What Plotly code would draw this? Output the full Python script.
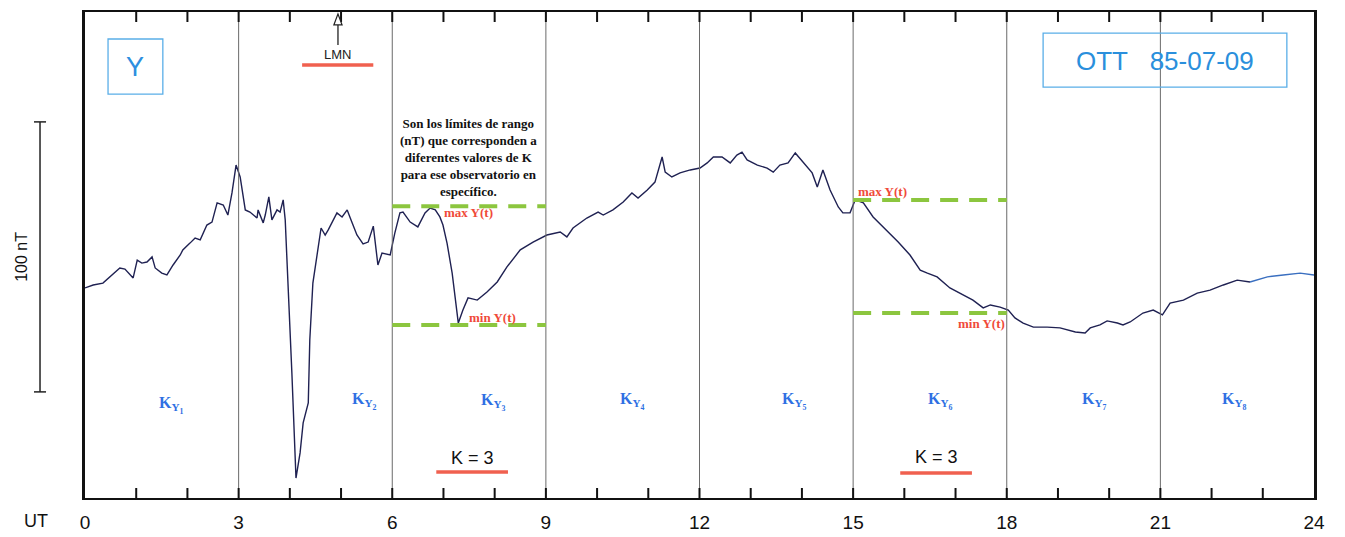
import plotly.graph_objects as go

# ---- data (hours UT, nT relative) ----
t_main = [0, 0.16, 0.35, 0.53, 0.68, 0.78, 0.94, 1.02, 1.11, 1.21, 1.31, 1.37, 1.50, 1.60, 1.72, 1.86, 1.91,
          2.05, 2.15, 2.25, 2.38, 2.48, 2.58, 2.70, 2.79, 2.87, 2.95, 3.03, 3.13, 3.22, 3.36, 3.38, 3.48,
          3.52, 3.59, 3.65, 3.75, 3.81, 3.87, 3.91, 3.96, 4.04, 4.12, 4.20, 4.26, 4.36, 4.39, 4.45, 4.61,
          4.69, 4.75, 4.92, 5.02, 5.12, 5.18, 5.31, 5.43, 5.53, 5.63, 5.72, 5.80, 5.96, 6.05, 6.15, 6.21,
          6.35, 6.50, 6.64, 6.74, 6.84, 6.93, 6.99, 7.07, 7.17, 7.29, 7.38, 7.48, 7.66, 7.85, 8.05, 8.24,
          8.50, 8.75, 9.02, 9.28, 9.41, 9.53, 9.80, 10.02, 10.12, 10.31, 10.51, 10.68, 10.80, 10.98, 11.13,
          11.27, 11.33, 11.46, 11.62, 11.82, 12.01, 12.15, 12.27, 12.44, 12.60, 12.73, 12.83, 12.93, 13.13,
          13.32, 13.44, 13.57, 13.73, 13.87, 14.02, 14.20, 14.30, 14.41, 14.55, 14.71, 14.80, 14.94, 15.04,
          15.20, 15.39, 15.59, 15.88, 16.11, 16.31, 16.45, 16.64, 16.89, 17.15, 17.34, 17.54, 17.68, 17.87,
          18.03, 18.16, 18.32, 18.52, 18.79, 19.04, 19.34, 19.53, 19.63, 19.82, 19.96, 20.16, 20.27, 20.41,
          20.66, 20.86, 21.04, 21.19, 21.45, 21.72, 21.97, 22.23, 22.50, 22.75]
y_main = [77.8, 78.9, 79.6, 82.6, 85.2, 84.8, 81.5, 88.1, 87.0, 87.4, 89.3, 85.2, 83.3, 82.6, 86.3, 90.0, 91.9,
          94.4, 96.3, 95.6, 101.1, 102.2, 109.3, 108.5, 104.8, 113.0, 123.3, 118.9, 106.7, 105.9, 103.7, 106.7, 101.9,
          104.8, 111.5, 103.0, 106.7, 105.9, 110.4, 103.0, 83.3, 46.3, 7.4, 16.7, 27.8, 35.2, 58.5, 79.6, 100.0,
          97.4, 99.3, 105.6, 104.1, 106.7, 103.7, 97.4, 94.1, 94.8, 100.7, 86.3, 90.7, 90.0, 98.1, 105.6, 105.9,
          102.2, 100.4, 105.6, 107.4, 106.7, 104.1, 101.1, 94.4, 83.3, 64.8, 69.6, 74.1, 73.3, 76.3, 80.0, 85.6,
          91.9, 94.8, 97.4, 98.5, 96.7, 100.0, 103.7, 105.9, 104.8, 106.7, 109.6, 113.0, 111.1, 114.1, 117.0,
          126.3, 120.7, 118.9, 120.4, 121.5, 122.2, 124.1, 126.3, 126.3, 124.1, 127.0, 128.1, 125.2, 123.3,
          122.2, 120.7, 123.3, 124.1, 127.8, 124.4, 120.4, 115.2, 121.5, 114.1, 107.8, 105.6, 105.6, 110.4,
          109.3, 104.1, 100.4, 94.8, 90.0, 84.4, 83.3, 81.9, 77.8, 75.2, 73.3, 70.4, 71.5, 70.7,
          69.6, 66.7, 64.8, 63.3, 63.3, 63.0, 61.5, 61.1, 63.0, 64.1, 65.6, 64.8, 64.1, 65.2,
          68.5, 69.6, 67.8, 72.2, 73.3, 75.9, 77.0, 78.9, 80.7, 80.0]
t_end = [22.75, 23.09, 23.40, 23.73, 24.0]
y_end = [80.0, 81.9, 82.6, 83.3, 82.6]

k_periods = [[6.0, 9.0], [15.0, 18.0]]
k_max = [108.1, 110.4]
k_min = [64.1, 68.5]

k_labels = ["K<sub>Y<sub>1</sub></sub>", "K<sub>Y<sub>2</sub></sub>", "K<sub>Y<sub>3</sub></sub>",
            "K<sub>Y<sub>4</sub></sub>", "K<sub>Y<sub>5</sub></sub>", "K<sub>Y<sub>6</sub></sub>",
            "K<sub>Y<sub>7</sub></sub>", "K<sub>Y<sub>8</sub></sub>"]
k_label_t = [1.68, 5.45, 7.97, 10.70, 13.85, 16.70, 19.72, 22.45]
k_label_y = [34.5, 36.0, 35.5, 36.0, 36.0, 36.0, 36.0, 36.0]

hour_ticks = list(range(0, 25))
tick_text = [str(h) if h % 3 == 0 else "" for h in hour_ticks]

# ---- figure ----
fig = go.Figure()
fig.add_trace(go.Scatter(x=t_main, y=y_main, mode="lines",
                         line=dict(color="#1f2152", width=1.4), hoverinfo="skip"))
fig.add_trace(go.Scatter(x=t_end, y=y_end, mode="lines",
                         line=dict(color="#3a6fc0", width=1.4), hoverinfo="skip"))

shapes = []
# 3-hour separators
for h in range(3, 24, 3):
    shapes.append(dict(type="line", xref="x", yref="paper", x0=h, x1=h, y0=0, y1=1,
                       line=dict(color="#6a6a6a", width=1)))
# hourly ticks (top and bottom, inward)
for h in hour_ticks[1:-1]:
    for y0, y1 in ((0, 3.7), (180, 176.3)):
        shapes.append(dict(type="line", xref="x", yref="y", x0=h, x1=h, y0=y0, y1=y1,
                           line=dict(color="#111", width=2)))
# dashed max/min lines
for (a, b), mx, mn in zip(k_periods, k_max, k_min):
    for yy in (mx, mn):
        shapes.append(dict(type="line", xref="x", yref="y", x0=a, x1=b, y0=yy, y1=yy,
                           line=dict(color="#8cc63f", width=4, dash="18px,11px")))
# K = 3 underlines
for x0, x1, yy in [(6.86, 8.26, 9.6), (15.92, 17.32, 9.3)]:
    shapes.append(dict(type="line", xref="x", yref="y", x0=x0, x1=x1, y0=yy, y1=yy,
                       line=dict(color="#f0604f", width=3.5)))
# LMN underline and arrow
shapes.append(dict(type="line", xref="x", yref="y", x0=4.24, x1=5.63, y0=160.4, y1=160.4,
                   line=dict(color="#f0604f", width=3.5)))
shapes.append(dict(type="line", xref="x", yref="y", x0=4.94, x1=4.94, y0=167.8, y1=178.5,
                   line=dict(color="#222", width=1.3)))
shapes.append(dict(type="path", xref="x", yref="y",
                   path="M 4.86 175.2 L 5.02 175.2 L 4.94 179.3 Z",
                   line=dict(color="#222", width=1.2), fillcolor="white"))
# 100 nT scale bar
shapes.append(dict(type="line", xref="paper", yref="y", x0=-0.0366, x1=-0.0366, y0=39.3, y1=139.3,
                   line=dict(color="#222", width=1.5)))
for yy in (39.3, 139.3):
    shapes.append(dict(type="line", xref="paper", yref="y", x0=-0.0415, x1=-0.0317, y0=yy, y1=yy,
                       line=dict(color="#222", width=1.5)))
# boxes
shapes.append(dict(type="rect", xref="x", yref="y", x0=0.45, x1=1.52, y0=149.6, y1=170.0,
                   line=dict(color="#5aaee8", width=1.3)))
shapes.append(dict(type="rect", xref="x", yref="y", x0=18.71, x1=23.47, y0=152.2, y1=172.2,
                   line=dict(color="#5aaee8", width=1.3)))

ann = []
ann.append(dict(x=0.98, y=159.8, text="Y", showarrow=False, font=dict(family="Liberation Sans", size=27, color="#2d8fe0")))
ann.append(dict(x=21.09, y=162.0, text="OTT&nbsp;&nbsp;&nbsp;85-07-09", showarrow=False,
                font=dict(family="Liberation Sans", size=26, color="#2a8fdc")))
ann.append(dict(x=4.94, y=164.3, text="LMN", showarrow=False, font=dict(family="Liberation Sans", size=13, color="#222")))
ann.append(dict(x=7.48, y=126.0,
                text="<b>Son los límites de rango<br>(nT) que corresponden a<br>diferentes valores de K<br>para ese observatorio en<br>específico.</b>",
                showarrow=False, align="center",
                font=dict(family="Liberation Serif", size=13, color="#111")))
ann.append(dict(x=6.97, y=105.8, text="<b>max Y(t)</b>", showarrow=False, xanchor="left",
                font=dict(family="Liberation Serif", size=13, color="#f04a3a")))
ann.append(dict(x=7.45, y=66.8, text="<b>min Y(t)</b>", showarrow=False, xanchor="left",
                font=dict(family="Liberation Serif", size=13, color="#f04a3a")))
ann.append(dict(x=15.05, y=113.5, text="<b>max Y(t)</b>", showarrow=False, xanchor="left",
                font=dict(family="Liberation Serif", size=13, color="#f04a3a")))
ann.append(dict(x=18.0, y=64.6, text="<b>min Y(t)</b>", showarrow=False, xanchor="right",
                font=dict(family="Liberation Serif", size=13, color="#f04a3a")))
for txt, tx, ty in zip(k_labels, k_label_t, k_label_y):
    ann.append(dict(x=tx, y=ty, text="<b>" + txt + "</b>", showarrow=False,
                    font=dict(family="Liberation Serif", size=16, color="#2f6fe3")))
ann.append(dict(x=7.56, y=14.8, text="K = 3", showarrow=False, font=dict(family="Liberation Sans", size=18, color="#111")))
ann.append(dict(x=16.62, y=15.2, text="K = 3", showarrow=False, font=dict(family="Liberation Sans", size=18, color="#111")))
ann.append(dict(xref="paper", yref="paper", x=-0.04, y=-0.048, text="UT", showarrow=False,
                xanchor="center", yanchor="middle", font=dict(family="Liberation Sans", size=18, color="#111")))
ann.append(dict(xref="paper", yref="y", x=-0.0513, y=89.3, text="100 nT", showarrow=False, textangle=-90,
                xanchor="center", yanchor="middle",
                font=dict(family="Liberation Sans", size=16, color="#111")))

fig.update_layout(
    width=1345, height=537,
    margin=dict(l=85, r=31, t=12, b=39, autoexpand=False),
    paper_bgcolor="white", plot_bgcolor="white",
    showlegend=False,
    shapes=shapes, annotations=ann,
    xaxis=dict(range=[0, 24], tickvals=hour_ticks, ticktext=tick_text, ticks="", ticklabelstandoff=6,
               automargin=False, showgrid=False, zeroline=False,
               showline=True, linecolor="#111", linewidth=2, mirror=True,
               tickfont=dict(family="Liberation Sans", size=19, color="#111")),
    yaxis=dict(range=[0, 180], showticklabels=False, ticks="", showgrid=False, zeroline=False,
               automargin=False,
               showline=True, linecolor="#111", linewidth=2.5, mirror=True),
)

fig.write_html("out.html")
